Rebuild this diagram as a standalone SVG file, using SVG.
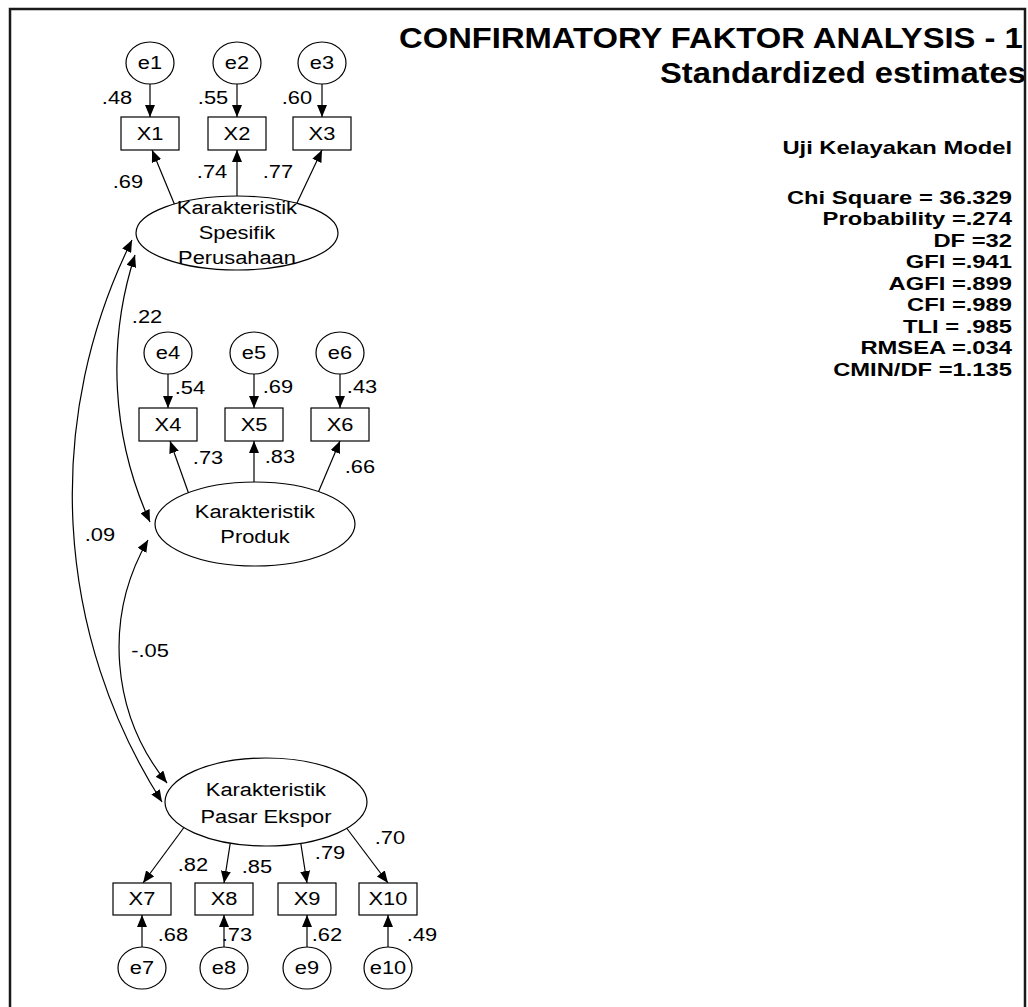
<svg xmlns="http://www.w3.org/2000/svg" width="1028" height="1007" viewBox="0 0 1028 1007">
  <defs>
    <marker id="ah" viewBox="0 0 12 10" refX="12" refY="5" markerWidth="12" markerHeight="10" markerUnits="userSpaceOnUse" orient="auto">
      <path d="M0,0 L12,5 L0,10 z" fill="#000"/>
    </marker>
    <marker id="ah2" viewBox="0 0 12 10" refX="12" refY="5" markerWidth="12" markerHeight="10" markerUnits="userSpaceOnUse" orient="auto-start-reverse">
      <path d="M0,0 L12,5 L0,10 z" fill="#000"/>
    </marker>
    <clipPath id="frameClip">
      <rect x="0" y="0" width="1024" height="1007"/>
    </clipPath>
  </defs>
  <style>
    text { font-family: "Liberation Sans", Arial, sans-serif; font-size: 19px; fill: #000; text-anchor: middle;
           transform-box: fill-box; transform-origin: center; transform: scaleX(1.15); }
    .box { fill: #fff; stroke: #000; stroke-width: 1.2; }
    .err { fill: #fff; stroke: #000; stroke-width: 1.2; }
    .lat { fill: #fff; stroke: #000; stroke-width: 1.2; }
    .conn line, .conn path { stroke: #000; stroke-width: 1.2; fill: none; }
    .title { font-weight: bold; font-size: 29px; text-anchor: start; transform-origin: left center; transform: scaleX(1.13); }
    .stat { font-weight: bold; font-size: 19px; text-anchor: end; transform-origin: right center; transform: scaleX(1.25); }
  </style>

  <rect width="1028" height="1007" fill="#fff"/>

  <!-- frame -->
  <path d="M10,1007 V9 H1025 V1007" fill="none" stroke="#1a1a1a" stroke-width="2.5"/>

  <!-- connectors -->
  <g id="connectors" class="conn">
    <!-- error terms to indicators -->
    <line x1="150" y1="84" x2="150" y2="117" marker-end="url(#ah)"/>
    <line x1="237" y1="84" x2="237" y2="117" marker-end="url(#ah)"/>
    <line x1="322" y1="84" x2="322" y2="117" marker-end="url(#ah)"/>
    <line x1="168" y1="374" x2="168" y2="408" marker-end="url(#ah)"/>
    <line x1="254" y1="374" x2="254" y2="408" marker-end="url(#ah)"/>
    <line x1="340" y1="374" x2="340" y2="408" marker-end="url(#ah)"/>
    <line x1="142" y1="947" x2="142" y2="915" marker-end="url(#ah)"/>
    <line x1="224" y1="947" x2="224" y2="915" marker-end="url(#ah)"/>
    <line x1="307" y1="947" x2="307" y2="915" marker-end="url(#ah)"/>
    <line x1="388" y1="947" x2="388" y2="915" marker-end="url(#ah)"/>
    <!-- factor loadings -->
    <line x1="176" y1="208" x2="152" y2="150" marker-end="url(#ah)"/>
    <line x1="237" y1="205" x2="237" y2="150" marker-end="url(#ah)"/>
    <line x1="296" y1="205" x2="322" y2="150" marker-end="url(#ah)"/>
    <line x1="191" y1="500" x2="170" y2="441" marker-end="url(#ah)"/>
    <line x1="254" y1="495" x2="254" y2="441" marker-end="url(#ah)"/>
    <line x1="315" y1="500" x2="340" y2="441" marker-end="url(#ah)"/>
    <line x1="188" y1="822" x2="143" y2="883" marker-end="url(#ah)"/>
    <line x1="232" y1="832" x2="224" y2="883" marker-end="url(#ah)"/>
    <line x1="299" y1="832" x2="307" y2="883" marker-end="url(#ah)"/>
    <line x1="342" y1="822" x2="388" y2="883" marker-end="url(#ah)"/>
    <!-- covariances -->
    <path d="M135,255 A369,369 0 0 0 150,522" marker-start="url(#ah2)" marker-end="url(#ah2)"/>
    <path d="M132,240 A572,572 0 0 0 162,802" marker-start="url(#ah2)" marker-end="url(#ah2)"/>
    <path d="M148,540 A215,215 0 0 0 167,783" marker-start="url(#ah2)" marker-end="url(#ah2)"/>
  </g>

  <!-- path coefficients -->
  <g id="estimates">
    <text x="117" y="104">.48</text>
    <text x="213" y="104">.55</text>
    <text x="297" y="104">.60</text>
    <text x="128" y="188">.69</text>
    <text x="212" y="178">.74</text>
    <text x="278" y="178">.77</text>
    <text x="147" y="323">.22</text>
    <text x="190" y="394">.54</text>
    <text x="278" y="393">.69</text>
    <text x="362" y="393">.43</text>
    <text x="208" y="464">.73</text>
    <text x="280" y="463">.83</text>
    <text x="360" y="473">.66</text>
    <text x="100" y="541">.09</text>
    <text x="150" y="657">-.05</text>
    <text x="193" y="871">.82</text>
    <text x="257" y="873">.85</text>
    <text x="330" y="859">.79</text>
    <text x="390" y="844">.70</text>
    <text x="173" y="941">.68</text>
    <text x="237" y="941">.73</text>
    <text x="327" y="941">.62</text>
    <text x="422" y="941">.49</text>
  </g>

  <!-- latent variables -->
  <g id="KSP">
    <ellipse class="lat" cx="237" cy="233" rx="101" ry="37"/>
    <text x="237" y="214">Karakteristik</text>
    <text x="237" y="239">Spesifik</text>
    <text x="237" y="264">Perusahaan</text>
  </g>
  <g id="KP">
    <ellipse class="lat" cx="255" cy="524" rx="100" ry="42"/>
    <text x="255" y="518">Karakteristik</text>
    <text x="255" y="543">Produk</text>
  </g>
  <g id="KPE">
    <ellipse class="lat" cx="266" cy="802" rx="101" ry="44"/>
    <text x="266" y="796">Karakteristik</text>
    <text x="266" y="823">Pasar Ekspor</text>
  </g>

  <!-- indicators -->
  <g id="X1"><rect class="box" x="121" y="117" width="58" height="33"/><text x="150" y="140">X1</text></g>
  <g id="X2"><rect class="box" x="208" y="117" width="58" height="33"/><text x="237" y="140">X2</text></g>
  <g id="X3"><rect class="box" x="293" y="117" width="58" height="33"/><text x="322" y="140">X3</text></g>
  <g id="X4"><rect class="box" x="139" y="408" width="58" height="33"/><text x="168" y="431">X4</text></g>
  <g id="X5"><rect class="box" x="225" y="408" width="58" height="33"/><text x="254" y="431">X5</text></g>
  <g id="X6"><rect class="box" x="311" y="408" width="58" height="33"/><text x="340" y="431">X6</text></g>
  <g id="X7"><rect class="box" x="113" y="883" width="58" height="32"/><text x="142" y="905">X7</text></g>
  <g id="X8"><rect class="box" x="195" y="883" width="58" height="32"/><text x="224" y="905">X8</text></g>
  <g id="X9"><rect class="box" x="278" y="883" width="58" height="32"/><text x="307" y="905">X9</text></g>
  <g id="X10"><rect class="box" x="359" y="883" width="58" height="32"/><text x="388" y="905">X10</text></g>

  <!-- error terms -->
  <g id="e1"><ellipse class="err" cx="150" cy="63" rx="24" ry="21"/><text x="150" y="69">e1</text></g>
  <g id="e2"><ellipse class="err" cx="237" cy="63" rx="24" ry="21"/><text x="237" y="69">e2</text></g>
  <g id="e3"><ellipse class="err" cx="322" cy="63" rx="24" ry="21"/><text x="322" y="69">e3</text></g>
  <g id="e4"><ellipse class="err" cx="168" cy="353" rx="24" ry="21"/><text x="168" y="359">e4</text></g>
  <g id="e5"><ellipse class="err" cx="254" cy="353" rx="24" ry="21"/><text x="254" y="359">e5</text></g>
  <g id="e6"><ellipse class="err" cx="340" cy="353" rx="24" ry="21"/><text x="340" y="359">e6</text></g>
  <g id="e7"><ellipse class="err" cx="142" cy="968" rx="24" ry="21"/><text x="142" y="974">e7</text></g>
  <g id="e8"><ellipse class="err" cx="224" cy="968" rx="24" ry="21"/><text x="224" y="974">e8</text></g>
  <g id="e9"><ellipse class="err" cx="307" cy="968" rx="24" ry="21"/><text x="307" y="974">e9</text></g>
  <g id="e10"><ellipse class="err" cx="388" cy="968" rx="24" ry="21"/><text x="388" y="974">e10</text></g>

  <!-- heading -->
  <g id="heading" clip-path="url(#frameClip)">
    <text class="title" x="399" y="48">CONFIRMATORY FAKTOR ANALYSIS - 1</text>
    <text class="title" x="660" y="83">Standardized estimates</text>
  </g>

  <!-- model fit summary -->
  <g id="fit">
    <text class="stat" x="1012" y="154">Uji Kelayakan Model</text>
    <text class="stat" x="1012" y="204">Chi Square = 36.329</text>
    <text class="stat" x="1012" y="225">Probability =.274</text>
    <text class="stat" x="1012" y="247">DF =32</text>
    <text class="stat" x="1012" y="268">GFI =.941</text>
    <text class="stat" x="1012" y="290">AGFI =.899</text>
    <text class="stat" x="1012" y="311">CFI =.989</text>
    <text class="stat" x="1012" y="333">TLI = .985</text>
    <text class="stat" x="1012" y="354">RMSEA =.034</text>
    <text class="stat" x="1012" y="376">CMIN/DF =1.135</text>
  </g>
</svg>
